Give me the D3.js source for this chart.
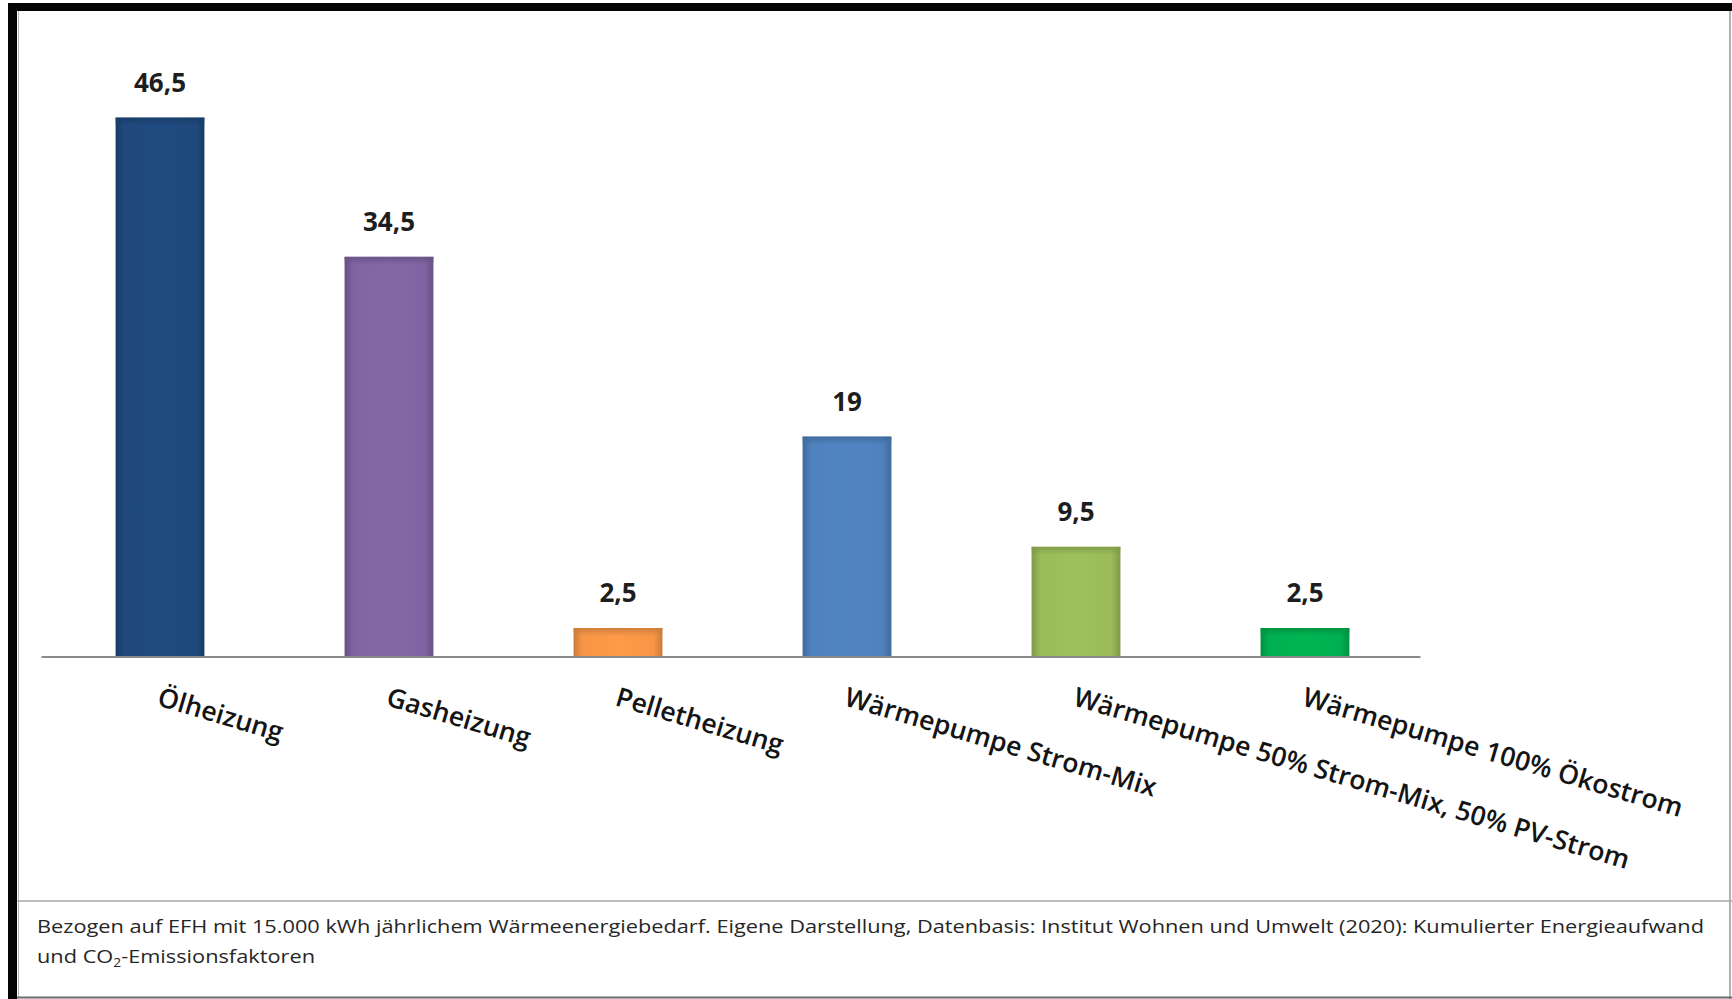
<!DOCTYPE html>
<html>
<head>
<meta charset="utf-8">
<script src="https://cdn.jsdelivr.net/npm/d3@7"></script>
<style>
  html, body { margin: 0; padding: 0; background: #fff; }
  svg { display: block; }
</style>
</head>
<body>
<svg id="chart" width="1732" height="999"></svg>
<script>
// Heizsysteme und ihr Wert je System
const categories = [
  "Ölheizung",
  "Gasheizung",
  "Pelletheizung",
  "Wärmepumpe Strom-Mix",
  "Wärmepumpe 50% Strom-Mix, 50% PV-Strom",
  "Wärmepumpe 100% Ökostrom"
];
const values = [46.5, 34.5, 2.5, 19, 9.5, 2.5];
const valueLabels = ["46,5", "34,5", "2,5", "19", "9,5", "2,5"];
const barColors = ["#1F497D", "#8064A2", "#F79646", "#4F81BD", "#9BBB59", "#00B050"];
const footnoteLine1 = "Bezogen auf EFH mit 15.000 kWh jährlichem Wärmeenergiebedarf. Eigene Darstellung, Datenbasis:  Institut Wohnen und Umwelt (2020): Kumulierter Energieaufwand";
const footnoteLine2 = ["und CO", "2", "-Emissionsfaktoren"];

const svg = d3.select("#chart");
const W = 1732, H = 999;

// Plot geometry
const plot = { left: 45.5, right: 1419.5, baseline: 657, top: 77 };

const x = d3.scaleBand()
  .domain(categories)
  .range([plot.left, plot.right])
  .paddingInner(0.612)
  .paddingOuter(0.306);

const y = d3.scaleLinear()
  .domain([0, 50])
  .range([plot.baseline, plot.top]);

// Gradients giving the bars shaded edges
const defs = svg.append("defs");
barColors.forEach((c, i) => {
  const dark = d3.color(c).darker(0.55).formatHex();
  const light = d3.color(c).brighter(0.08).formatHex();
  const g = defs.append("linearGradient")
    .attr("id", "bar-grad-" + i)
    .attr("x1", "0").attr("x2", "1").attr("y1", "0").attr("y2", "0");
  g.append("stop").attr("offset", "0%").attr("stop-color", dark);
  g.append("stop").attr("offset", "10%").attr("stop-color", c);
  g.append("stop").attr("offset", "50%").attr("stop-color", light);
  g.append("stop").attr("offset", "90%").attr("stop-color", c);
  g.append("stop").attr("offset", "100%").attr("stop-color", dark);
  const t = defs.append("linearGradient")
    .attr("id", "bar-top-" + i)
    .attr("x1", "0").attr("x2", "0").attr("y1", "0").attr("y2", "1");
  t.append("stop").attr("offset", "0%").attr("stop-color", dark).attr("stop-opacity", 0.9);
  t.append("stop").attr("offset", "100%").attr("stop-color", dark).attr("stop-opacity", 0);
});

// Bars
const bars = svg.append("g").attr("class", "bars");
categories.forEach((cat, i) => {
  const bx = x(cat), bw = x.bandwidth();
  const by = y(values[i]), bh = y(0) - y(values[i]);
  bars.append("rect")
    .attr("x", bx).attr("y", by)
    .attr("width", bw).attr("height", bh)
    .attr("fill", "url(#bar-grad-" + i + ")");
  bars.append("rect")
    .attr("x", bx).attr("y", by)
    .attr("width", bw).attr("height", Math.min(8, bh))
    .attr("fill", "url(#bar-top-" + i + ")");
});

// Value labels above bars
svg.append("g").attr("class", "values")
  .selectAll("text")
  .data(categories)
  .join("text")
  .attr("x", d => x(d) + x.bandwidth() / 2)
  .attr("y", (d, i) => y(values[i]) - 26)
  .attr("text-anchor", "middle")
  .attr("font-family", "'Open Sans', sans-serif")
  .attr("font-weight", 700)
  .attr("font-size", 26)
  .attr("fill", "#1e1e1e")
  .text((d, i) => valueLabels[i]);

// Category axis line
const xAxis = d3.axisBottom(x).tickSize(0).tickFormat("");
const axisG = svg.append("g")
  .attr("transform", `translate(0,${plot.baseline})`)
  .call(xAxis);
axisG.select(".domain")
  .attr("d", `M${plot.left - 4},0H${plot.right + 1}`)
  .attr("stroke", "#8a8a8a")
  .attr("stroke-width", 2);

// Rotated category labels
svg.append("g").attr("class", "cat-labels")
  .selectAll("text")
  .data(categories)
  .join("text")
  .attr("transform", d => `translate(${x(d) + x.bandwidth() / 2 - 4},${plot.baseline + 48}) rotate(16.5)`)
  .attr("text-anchor", "start")
  .attr("font-family", "'Open Sans', sans-serif")
  .attr("font-weight", 600)
  .attr("font-size", 26.6)
  .attr("fill", "#141414")
  .text(d => d);

// Frame: heavy black top and left edges, thin grey right and bottom edges
const frame = svg.append("g").attr("class", "frame");
frame.append("rect").attr("x", 8).attr("y", 3).attr("width", W - 8).attr("height", 8).attr("fill", "#050505");
frame.append("rect").attr("x", 8).attr("y", 3).attr("width", 9).attr("height", H - 3).attr("fill", "#050505");
frame.append("line").attr("x1", 18.5).attr("x2", 18.5).attr("y1", 11).attr("y2", 997)
  .attr("stroke", "#b5b5b5").attr("stroke-width", 1);
frame.append("line").attr("x1", W - 2).attr("x2", W - 2).attr("y1", 11).attr("y2", H)
  .attr("stroke", "#9a9a9a").attr("stroke-width", 1.5);
frame.append("line").attr("x1", 17).attr("x2", W).attr("y1", 997.5).attr("y2", 997.5)
  .attr("stroke", "#6a6a6a").attr("stroke-width", 2);
// Separator between chart area and source note
frame.append("line").attr("x1", 17).attr("x2", W).attr("y1", 901).attr("y2", 901)
  .attr("stroke", "#a8a8a8").attr("stroke-width", 1.5);

// Source note
const note = svg.append("g").attr("class", "note")
  .attr("font-family", "'Open Sans', sans-serif")
  .attr("font-size", 19)
  .attr("fill", "#262626");
note.append("text")
  .attr("x", 37).attr("y", 933)
  .attr("textLength", 1667)
  .attr("lengthAdjust", "spacingAndGlyphs")
  .text(footnoteLine1);
const l2 = note.append("text").attr("x", 37).attr("y", 963)
  .attr("textLength", 278)
  .attr("lengthAdjust", "spacingAndGlyphs");
l2.append("tspan").text(footnoteLine2[0]);
l2.append("tspan").attr("font-size", 12).attr("dy", 4).text(footnoteLine2[1]);
l2.append("tspan").attr("dy", -4).text(footnoteLine2[2]);
</script>
</body>
</html>
